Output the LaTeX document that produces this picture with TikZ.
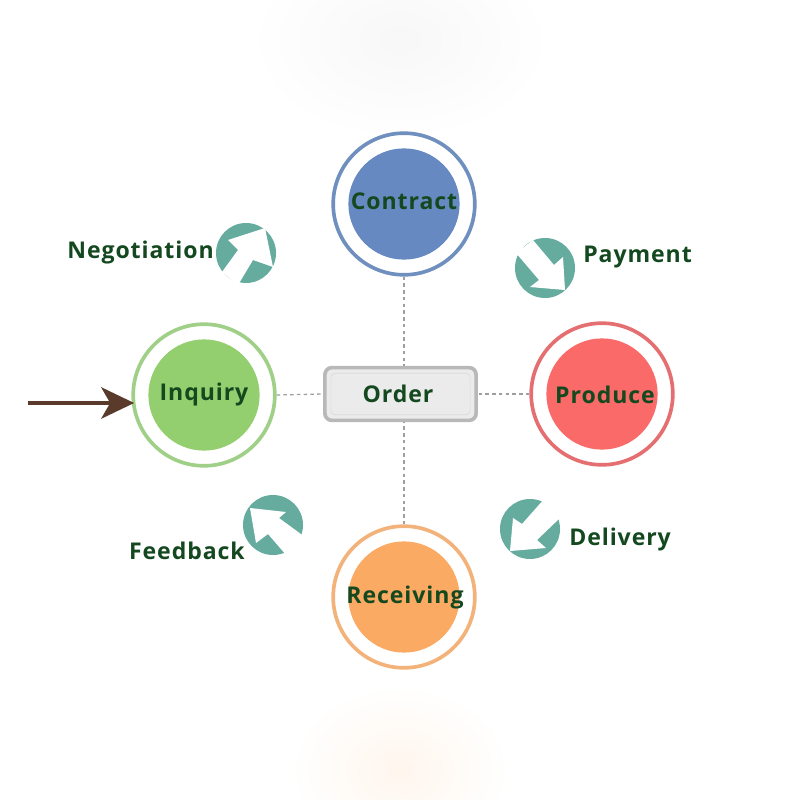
\documentclass[tikz,border=0pt]{standalone}
\usepackage{fontspec}
\setmainfont{Open Sans}[LetterSpace=4]
\usepackage{tikz}
\usetikzlibrary{arrows.meta,positioning,calc}
\definecolor{inkgreen}{HTML}{14481E}
\definecolor{contractblk}{HTML}{6589C0}
\definecolor{contractrim}{HTML}{6F8FBE}
\definecolor{inquiryblk}{HTML}{93CF6E}
\definecolor{inquiryrim}{HTML}{A0D088}
\definecolor{produceblk}{HTML}{FA6A68}
\definecolor{producerim}{HTML}{E56F70}
\definecolor{receiveblk}{HTML}{FBAA63}
\definecolor{receiverim}{HTML}{F3B27A}
\definecolor{turnblk}{HTML}{65AC9F}
\definecolor{shaftbrown}{HTML}{5A3A2A}
\tikzset{
  rim/.style      = {circle,line width=2.6pt,fill=white,minimum size=3.54cm,inner sep=0pt},
  disc/.style     = {circle,minimum size=2.78cm,inner sep=0pt},
  turn/.style     = {circle,fill=turnblk,minimum size=1.5cm,inner sep=0pt},
  gap/.style      = {fill=white,draw=none},
  lbl/.style      = {text=inkgreen,inner sep=0pt,font=\fontsize{16.4}{18}\selectfont\bfseries},
  orderrim/.style = {draw=black!28,fill=black!8,line width=2.6pt,rounded corners=5pt,
                     minimum width=3.78cm,minimum height=1.32cm},
  orderface/.style= {draw=black!14,fill=black!8,line width=.5pt,rounded corners=3pt,
                     minimum width=3.48cm,minimum height=1.04cm,inner sep=0pt},
  link/.style     = {draw=black!38,line width=.9pt,dash pattern=on 2.4pt off 2.4pt},
  entry/.style    = {-{Stealth[length=8.2mm,width=7.8mm,inset=2.2mm]},line width=3.2pt,
                     draw=shaftbrown,shorten >=-.7mm},
}
\begin{document}
\begin{tikzpicture}[x=0.025cm,y=-0.025cm]
    \useasboundingbox (0,0) rectangle (800,800);
    % soft glow at top and bottom
    \shade[inner color=black!3,outer color=white,draw=none] (400,40) ellipse (150 and 100);
    \shade[inner color=orange!7,outer color=white,draw=none] (400,770) ellipse (110 and 85);
    % the four stages and the hub
    \node[rim,draw=contractrim] (contract) at (404,204) {};
    \node[rim,draw=inquiryrim]  (inquiry)  at (204,395) {};
    \node[rim,draw=producerim]  (produce)  at (602,394) {};
    \node[rim,draw=receiverim]  (receiving) at (404,597) {};
    \node[orderrim] (order) at (400.5,394) {};
    \node[orderface] (orderface) at (order) {};
    \node[disc,fill=contractblk] (contractdisc) at (contract) {};
    \node[disc,fill=inquiryblk]  (inquirydisc)  at (inquiry)  {};
    \node[disc,fill=produceblk]  (producedisc)  at (produce)  {};
    \node[disc,fill=receiveblk]  (receivingdisc) at (receiving) {};
    \node[lbl] (contractlbl) at (404,201) {Contract};
    \node[lbl] (inquirylbl) at (204,395) {Inquiry};
    \node[lbl] (producelbl) at (605,395) {Produce};
    \node[lbl] (receivinglbl) at (405,598) {Receiving};
    \node[lbl] (orderlbl) at (398,394) {Order};
    \draw[link] (contract.south) -- (contract.south |- order.north);
    \draw[link] (receiving.north) -- (receiving.north |- order.south);
    \draw[link] (inquiry.east) -- (order.west);
    \draw[link] (produce.west) -- (order.east);
    % entry arrow
    \coordinate (start) at (28,403);
    \draw[entry] (start) -- (inquiry.west |- start);
    % turn icons
    \node[turn] (negotiationturn) at (246,253) {};
    \fill[gap] (265,228) -- (228,240) -- (238,250) -- (222,272) -- (238,285) -- (253,260) -- (273,267) -- cycle;
    \node[turn] (paymentturn) at (545,268) {};
    \fill[gap] (565,290) -- (530,287) -- (539,280) -- (516,253) -- (533,240) -- (554,265) -- (563,257) -- cycle;
    \node[turn] (feedbackturn) at (273,525) {};
    \fill[gap] (250,508) -- (286,512) -- (279,518) -- (305,537) -- (287,556) -- (268,534) -- (256,543) -- cycle;
    \node[turn] (deliveryturn) at (530,529) {};
    \fill[gap] (510,551) -- (513,518) -- (522,524) -- (545,498) -- (561,517) -- (537,540) -- (546,548) -- cycle;
    % captions
    \node[lbl,anchor=east] (negotiation) at (214,253) {Negotiation};
    \node[lbl,anchor=west] (payment) at (583,257) {Payment};
    \node[lbl,anchor=east] (feedback) at (245,551) {Feedback};
    \node[lbl,anchor=west] (delivery) at (569,540) {Delivery};
  \end{tikzpicture}
\end{document}
